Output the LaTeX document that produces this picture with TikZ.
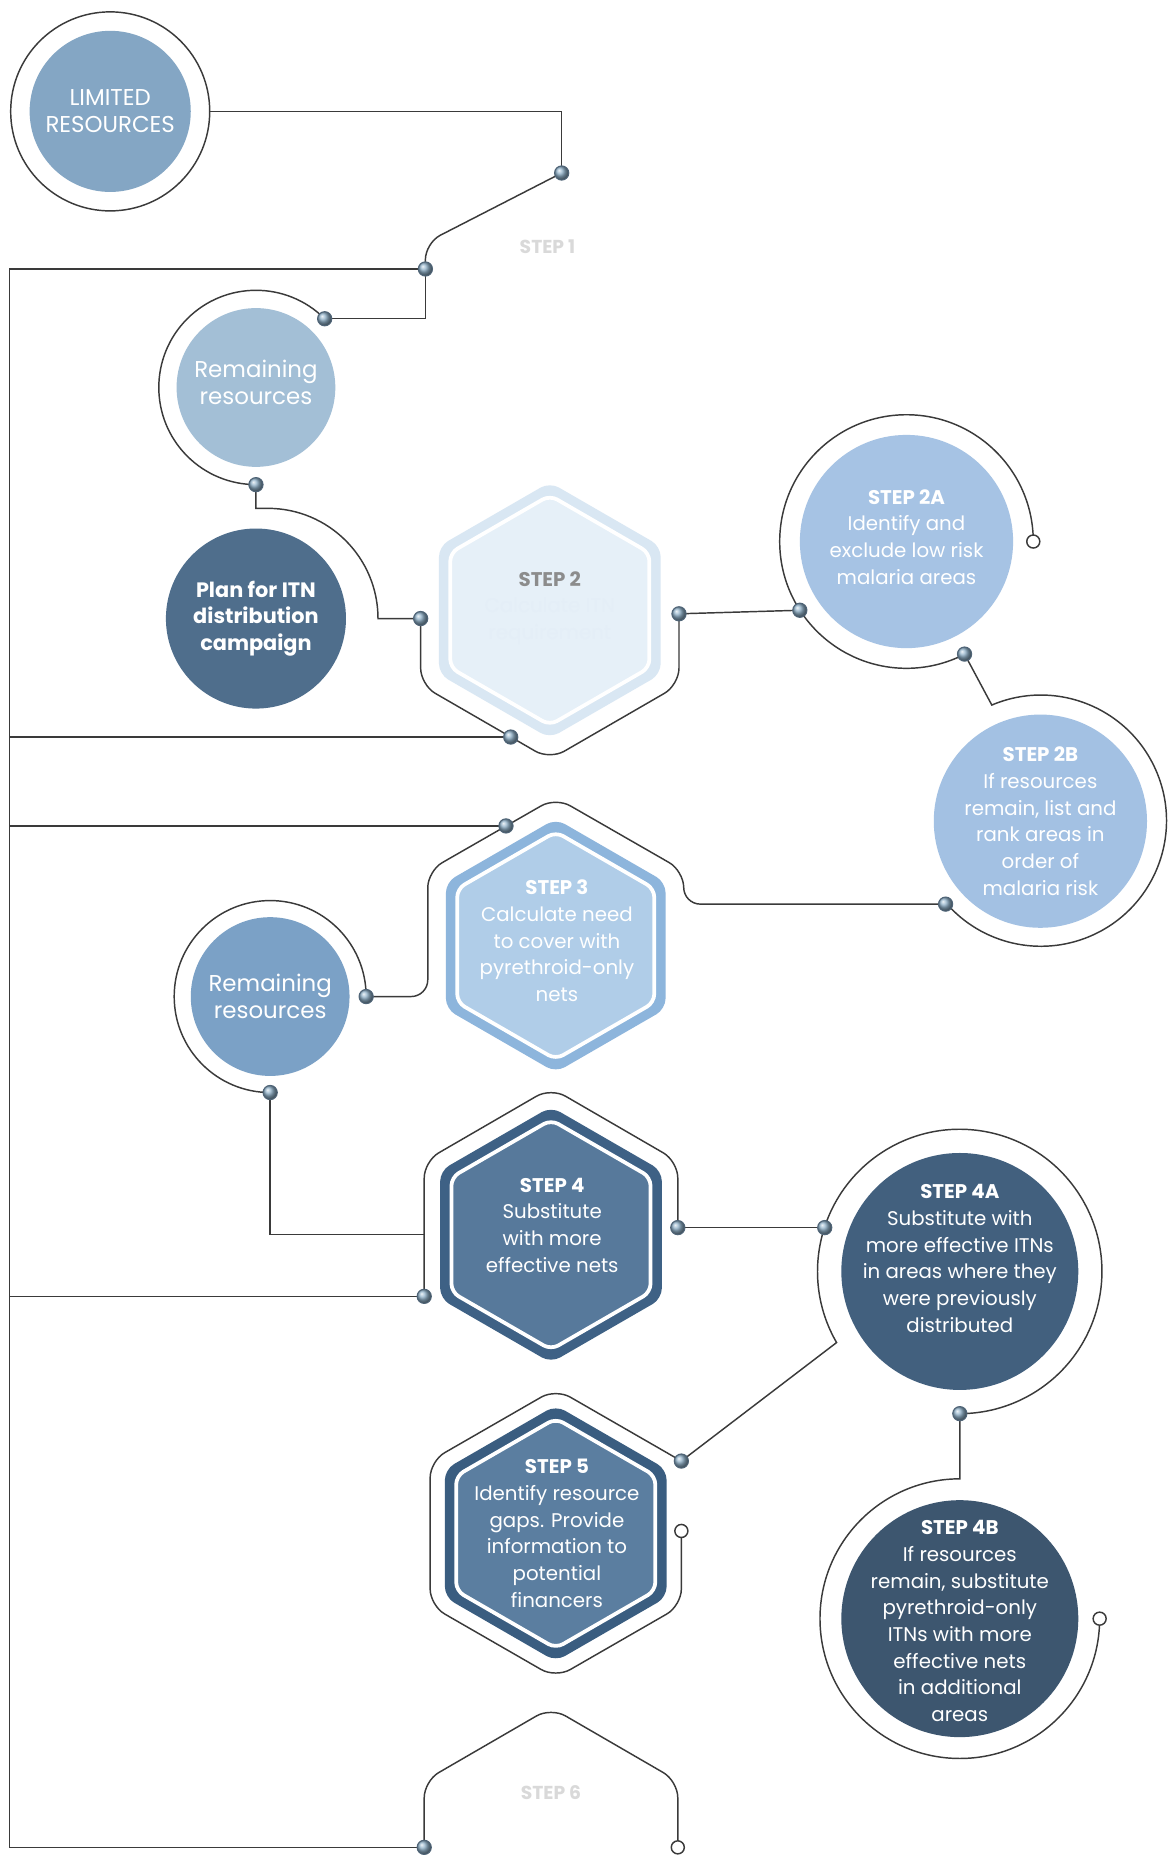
\documentclass[tikz,border=0pt]{standalone}
\usepackage{fontspec}
\setmainfont{Poppins}
\usetikzlibrary{positioning}
\usetikzlibrary{backgrounds}
\definecolor{wirec}{HTML}{3A3A3A}
\definecolor{dotc}{HTML}{8FB0C8}
\definecolor{dotd}{HTML}{4F6477}
\definecolor{limc}{HTML}{84A6C4}
\definecolor{rema}{HTML}{A3BFD6}
\definecolor{remb}{HTML}{7BA1C6}
\definecolor{planc}{HTML}{4F6E8C}
\definecolor{hexa2}{HTML}{D9E7F3}
\definecolor{hexb2}{HTML}{E6F0F8}
\definecolor{hexa3}{HTML}{8DB5DC}
\definecolor{hexb3}{HTML}{B0CDE8}
\definecolor{hexa4}{HTML}{3E6185}
\definecolor{hexb4}{HTML}{57799B}
\definecolor{hexa5}{HTML}{3A5D80}
\definecolor{hexb5}{HTML}{5B7EA0}
\definecolor{stepa2}{HTML}{A6C3E4}
\definecolor{stepb2}{HTML}{A3C1E3}
\definecolor{stepa4}{HTML}{42607E}
\definecolor{stepb4}{HTML}{3D566F}
\tikzset{
    wire/.style={draw=wirec, line width=0.7pt},
    jdot/.style={circle, draw=dotd, line width=0.5pt, shading=ball, ball color=dotc, inner sep=0pt, minimum size=0.24cm},
    hdot/.style={circle, draw=wirec, fill=white, line width=0.7pt, inner sep=0pt, minimum size=0.22cm},
    disc/.style={circle, inner sep=0pt, minimum size=#1},
    txt/.style={text=white, align=center, inner sep=0pt, font=\fontsize{9.5}{12.8}\selectfont}
}

\begin{document}
\begin{tikzpicture}[x=0.02cm, y=0.02cm]
    \useasboundingbox (0,0) rectangle (987,-1568);

    % hexagon centres
    \coordinate (s2) at (464,-515);
    \coordinate (s3) at (469,-798);
    \coordinate (s4) at (465,-1042);
    \coordinate (s5) at (469,-1294);

    \foreach \hc/\hr/\hout/\hin in {s2/108/hexa2/hexb2, s3/107/hexa3/hexb3, s4/108/hexa4/hexb4, s5/108/hexa5/hexb5} {
        \pgfmathsetmacro\hri{\hr-11}
        \fill[\hout, rounded corners=5pt] (\hc) ++(90:\hr) -- ++(210:\hr) -- ++(270:\hr) -- ++(330:\hr) -- ++(30:\hr) -- ++(90:\hr) -- cycle;
        \filldraw[fill=\hin, draw=white, line width=1.8pt, rounded corners=4pt] (\hc) ++(90:\hri) -- ++(210:\hri) -- ++(270:\hri) -- ++(330:\hri) -- ++(30:\hri) -- ++(90:\hri) -- cycle;
    }

    % circles
    \node[disc=2.72cm, fill=limc] (limited) at (93,-94) {};
    \node[disc=3.36cm, wire] (limring) at (limited) {};
    \node[disc=2.68cm, fill=rema] (rem1) at (216,-327) {};
    \node[disc=3.04cm, fill=planc] (plan) at (216,-522) {};
    \node[disc=3.6cm, fill=stepa2] (s2a) at (765,-457) {};
    \node[disc=3.6cm, fill=stepb2] (s2b) at (878,-693) {};
    \node[disc=2.68cm, fill=remb] (rem2) at (228,-841) {};
    \node[disc=4cm, fill=stepa4] (s4a) at (810,-1073) {};
    \node[disc=4cm, fill=stepb4] (s4b) at (810,-1366) {};

    % texts
    \node[txt, font=\fontsize{11}{13}\selectfont] (limtxt) at (limited) {LIMITED\\RESOURCES};
    \node[txt, font=\fontsize{11}{13}\selectfont] (rem1txt) at (216,-323) {Remaining\\resources};
    \node[txt, font=\bfseries\fontsize{10}{12.6}\selectfont] (plantxt) at (plan) {Plan for ITN\\distribution\\campaign};
    \node[txt, text=hexa2!70!white] (s2txt) at (464,-513) {{\bfseries\color{black!45}STEP 2}\\Calculate ITN\\requirement};
    \node[txt] (s2atxt) at (765,-453) {\textbf{STEP 2A}\\Identify and\\exclude low risk\\malaria areas};
    \node[txt] (s2btxt) at (878,-693) {\textbf{STEP 2B}\\If resources\\remain, list and\\rank areas in\\order of\\malaria risk};
    \node[txt] (s3txt) at (470,-794) {\textbf{STEP 3}\\Calculate need\\to cover with\\pyrethroid-only\\nets};
    \node[txt, font=\fontsize{11}{13}\selectfont] (rem2txt) at (rem2) {Remaining\\resources};
    \node[txt] (s4txt) at (466,-1034) {\textbf{STEP 4}\\Substitute\\with more\\effective nets};
    \node[txt] (s4atxt) at (810,-1062) {\textbf{STEP 4A}\\Substitute with\\more effective ITNs\\in areas where they\\were previously\\distributed};
    \node[txt] (s5txt) at (470,-1294) {\textbf{STEP 5}\\Identify resource\\gaps. Provide\\information to\\potential\\financers};
    \node[txt] (s4btxt) at (810,-1368) {\textbf{STEP 4B}\\If resources\\remain, substitute\\pyrethroid-only\\ITNs with more\\effective nets\\in additional\\areas};
    \node[txt, text=black!15, font=\bfseries\fontsize{9}{11}\selectfont] (s1txt) at (462,-208) {STEP 1};
    \node[txt, text=black!15, font=\bfseries\fontsize{9}{11}\selectfont] (s6txt) at (465,-1513) {STEP 6};

    % joints
    \node[jdot] (s1t) at (474,-146) {};
    \node[jdot] (s1l) at (359,-227) {};
    \node[jdot] (r1a) at (274,-269) {};
    \node[jdot] (r1b) at (216,-409) {};
    \node[jdot] (s2l) at (355,-522) {};
    \node[jdot] (s2r) at (573,-518) {};
    \node[jdot] (s2d) at (431,-622) {};
    \node[jdot] (s2aa) at (675,-515) {};
    \node[jdot] (s2ab) at (814,-552) {};
    \node[hdot] (s2ah) at (872,-457) {};
    \node[jdot] (s2bd) at (798,-763) {};
    \node[jdot] (s3d) at (427,-697) {};
    \node[jdot] (r2a) at (309,-841) {};
    \node[jdot] (r2b) at (228,-922) {};
    \node[jdot] (s4l) at (358,-1094) {};
    \node[jdot] (s4r) at (572,-1036) {};
    \node[jdot] (s4aa) at (696,-1036) {};
    \node[jdot] (s4ab) at (810,-1193) {};
    \node[jdot] (s5a) at (575,-1233) {};
    \node[hdot] (s5h) at (575,-1292) {};
    \node[hdot] (s4bh) at (928,-1366) {};
    \node[jdot] (s6l) at (358,-1559) {};
    \node[hdot] (s6h) at (572,-1559) {};

    \begin{scope}[on background layer]
        \fill[white] (0,0) rectangle (987,-1568);
        % trunk on the left
        \draw[wire] (s1l.center) -- (8,-227) -- (8,-1559) -- (s6l.center);
        \draw[wire] (s2d.center) -- (8,-622);
        \draw[wire] (s3d.center) -- (8,-697);
        \draw[wire] (s4l.center) -- (8,-1094);

        \draw[wire] (limring.east) -| (s1t.center);
        \draw[wire, rounded corners=8pt] (s1t.center) -- (359,-205) -- (s1l.center);
        \draw[wire] (s1l.center) |- (r1a.center);
        \draw[wire] (r1a.center) arc[start angle=45, end angle=270, radius=82];
        \draw[wire] (r1b.center) -- (216,-429) -- (226,-429) arc[start angle=90, end angle=0, radius=93] -- (s2l.center);

        % step 2
        \draw[wire, rounded corners=8pt] (s2l.center) -- (355,-578) -- (464,-641) -- (573,-578) -- (s2r.center);
        \draw[wire] (s2r.center) -- (s2aa.center);
        \draw[wire] (s2ah.center) arc[start angle=0, end angle=297, radius=107];
        \draw[wire] (s2ab.center) -- (837,-595) arc[start angle=113, end angle=-139, radius=106];

        % step 3
        \draw[wire, rounded corners=8pt] (s2bd.center) -- (577,-763) -- (577,-735) -- (469,-673) -- (361,-735) -- (361,-841) -- (r2a.center);
        \draw[wire] (r2a.center) arc[start angle=0, end angle=270, radius=81];

        % step 4
        \draw[wire] (r2b.center) |- (358,-1042);
        \draw[wire, rounded corners=8pt] (s4l.center) -- (358,-980) -- (465,-918) -- (572,-980) -- (s4r.center);
        \draw[wire] (s4r.center) -- (s4aa.center);
        \draw[wire] (s5a.center) -- (706,-1133) arc[start angle=210, end angle=-90, radius=120];
        \draw[wire] (s4ab.center) -- (810,-1248) arc[start angle=90, end angle=360, radius=118];

        % step 5
        \draw[wire, rounded corners=8pt] (s5a.center) -- (469,-1172) -- (363,-1233) -- (363,-1355) -- (469,-1416) -- (575,-1355) -- (s5h.center);

        % step 6
        \draw[wire, rounded corners=8pt] (s6l.center) -- (358,-1503) -- (465,-1441) -- (572,-1503) -- (s6h.center);
    \end{scope}
\end{tikzpicture}
\end{document}
